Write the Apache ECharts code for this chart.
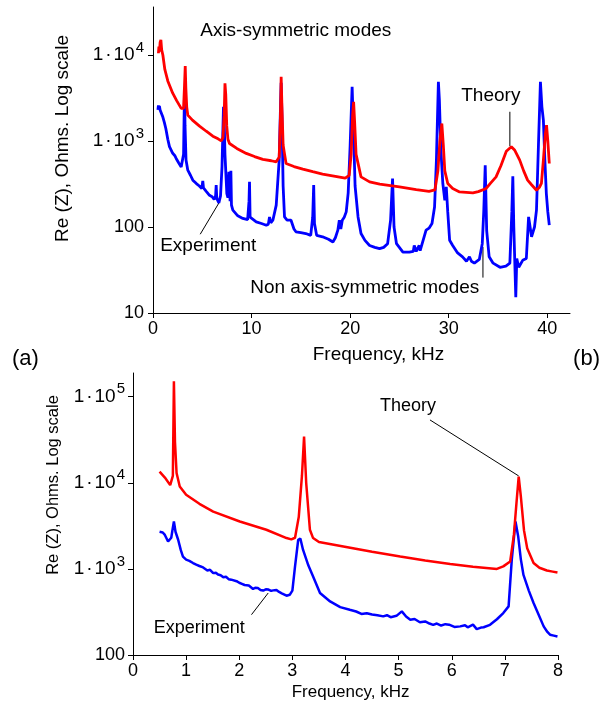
<!DOCTYPE html>
<html>
<head>
<meta charset="utf-8">
<script src="https://cdn.jsdelivr.net/npm/echarts@6/dist/echarts.min.js"></script>
<style>
  html, body { margin: 0; padding: 0; background: #fff; }
  #main { width: 604px; height: 703px; }
</style>
</head>
<body>
<div id="main"></div>
<script>
// ---- (a) full band, 0-40 kHz: frequency in kHz, Re(Z) in ohms ----
const topTheoryFreq = [0.55, 0.6, 0.66, 0.72, 0.8, 0.88, 1.0, 1.2, 1.5, 2.0, 2.4, 2.86, 3.1, 3.2, 3.27, 3.33, 3.42, 3.53, 4.0, 4.72, 5.4, 6.07, 6.6, 6.92, 7.1, 7.22, 7.3, 7.38, 7.48, 7.6, 7.76, 8.5, 9.46, 10.3, 11.14, 12.0, 12.5, 12.8, 12.92, 13.0, 13.08, 13.2, 13.35, 13.5, 14.3, 15.2, 16.2, 17.2, 18.5, 19.5, 19.9, 20.1, 20.25, 20.35, 20.45, 20.6, 21.1, 21.97, 23.0, 25.0, 26.7, 28.0, 28.6, 28.9, 29.1, 29.3, 29.45, 29.6, 29.9, 30.4, 31.1, 32.45, 33.0, 33.8, 34.2, 34.8, 35.3, 35.84, 36.35, 36.7, 37.2, 37.6, 38.0, 38.4, 38.9, 39.2, 39.4, 39.6, 39.8, 39.92, 40.05, 40.2];
const topTheoryOhm = [10500, 12500, 11000, 14000, 15000, 11500, 10000, 6800, 5000, 3600, 2950, 2400, 2400, 4500, 7450, 4200, 2500, 2000, 1750, 1490, 1300, 1140, 1060, 1005, 1100, 2000, 4690, 3500, 1500, 1050, 937, 820, 718, 660, 611, 590, 573, 650, 1800, 5580, 2500, 900, 700, 548, 505, 471, 440, 412, 388, 370, 400, 700, 2000, 2860, 1700, 700, 383, 335, 315, 293, 272, 260, 270, 450, 1000, 1600, 900, 450, 321, 280, 256, 250, 258, 281, 320, 383, 520, 760, 860, 780, 600, 450, 351, 310, 268, 290, 321, 600, 1200, 1530, 1000, 548];

const topExpFreq = [0.5, 0.55, 0.6, 0.65, 0.72, 0.8, 1.0, 1.15, 1.3, 1.5, 1.67, 2.0, 2.2, 2.35, 2.6, 2.86, 3.0, 3.1, 3.17, 3.2, 3.25, 3.35, 3.53, 3.8, 4.04, 4.4, 4.7, 4.95, 5.05, 5.12, 5.4, 5.73, 6.0, 6.2, 6.35, 6.41, 6.47, 6.68, 6.85, 7.0, 7.08, 7.15, 7.22, 7.3, 7.49, 7.6, 7.7, 7.76, 7.82, 7.9, 7.96, 8.1, 8.6, 9.11, 9.6, 9.74, 9.79, 9.85, 10.47, 11.0, 11.49, 11.7, 11.82, 11.95, 12.16, 12.5, 12.8, 12.95, 13.0, 13.08, 13.2, 13.34, 13.6, 14.0, 14.1, 14.3, 14.5, 15.0, 15.5, 16.0, 16.2, 16.3, 16.38, 16.6, 17.2, 17.8, 18.25, 18.5, 18.75, 18.9, 19.05, 19.2, 19.4, 19.6, 19.8, 20.0, 20.2, 20.35, 20.5, 20.8, 21.1, 21.5, 21.97, 22.5, 22.98, 23.4, 23.8, 24.1, 24.3, 24.45, 24.7, 25.35, 26.0, 26.4, 26.5, 26.7, 27.0, 27.1, 27.3, 27.7, 28.0, 28.3, 28.56, 28.75, 28.95, 29.05, 29.2, 29.4, 29.6, 29.75, 29.9, 30.09, 30.4, 30.9, 31.4, 31.8, 32.1, 32.3, 32.6, 33.1, 33.4, 33.55, 33.7, 33.85, 34.1, 34.5, 35.2, 35.8, 36.2, 36.4, 36.5, 36.6, 36.8, 36.9, 37.1, 37.5, 37.87, 38.1, 38.4, 38.7, 38.9, 39.1, 39.3, 39.45, 39.6, 39.75, 39.9, 40.05, 40.2];
const topExpOhm = [2300, 2600, 2400, 2550, 2300, 2400, 1900, 1650, 1400, 1050, 860, 720, 680, 627, 560, 500, 480, 700, 2500, 4090, 1500, 600, 458, 400, 351, 320, 300, 280, 344, 285, 260, 234, 225, 210, 230, 307, 215, 191, 230, 500, 1200, 2500, 1800, 700, 245, 220, 440, 458, 200, 450, 180, 157, 135, 126, 122, 200, 335, 130, 115, 110, 105, 108, 131, 112, 120, 180, 600, 3000, 4760, 2000, 300, 131, 120, 120, 126, 95, 88, 86, 84, 80, 130, 307, 110, 80, 77, 72, 67, 75, 92, 120, 95, 120, 130, 150, 250, 900, 4280, 1200, 300, 131, 84, 70, 61, 58, 56, 58, 64, 120, 367, 100, 64, 51, 51, 52, 61, 52, 61, 53, 55, 92, 97, 110, 171, 600, 4890, 3000, 800, 321, 205, 293, 150, 70, 61, 50, 45, 40, 45, 40, 38, 42, 64, 150, 524, 90, 45, 38, 34, 35, 38, 150, 390, 100, 15.3, 43, 34, 41, 43, 131, 77, 100, 157, 900, 4890, 2500, 1750, 600, 245, 150, 105];

// ---- (b) low band, 0-8 kHz ----
const botTheoryFreq = [0.5, 0.6, 0.7, 0.73, 0.75, 0.77, 0.79, 0.82, 0.88, 1.0, 1.25, 1.51, 2.01, 2.51, 2.89, 2.98, 3.05, 3.12, 3.18, 3.22, 3.26, 3.33, 3.39, 3.5, 3.96, 4.5, 5.03, 5.5, 5.97, 6.4, 6.85, 6.97, 7.1, 7.17, 7.22, 7.26, 7.3, 7.36, 7.42, 7.54, 7.65, 7.79, 7.9, 7.99];
const botTheoryOhm = [13500, 11500, 9400, 9040, 12000, 151000, 30000, 13000, 9040, 7250, 5700, 4630, 3550, 2850, 2280, 2200, 2300, 4000, 12000, 34400, 10000, 2850, 2280, 2050, 1820, 1580, 1390, 1250, 1140, 1060, 1000, 1070, 1220, 2500, 6000, 11800, 7000, 2800, 1740, 1170, 1030, 957, 930, 908];

const botExpFreq = [0.5, 0.53, 0.56, 0.6, 0.63, 0.66, 0.69, 0.72, 0.75, 0.77, 0.8, 0.85, 0.9, 0.94, 1.0, 1.06, 1.13, 1.19, 1.25, 1.32, 1.4, 1.45, 1.51, 1.56, 1.6, 1.65, 1.7, 1.75, 1.8, 1.85, 1.885, 1.95, 2.0, 2.05, 2.1, 2.18, 2.26, 2.3, 2.35, 2.4, 2.45, 2.5, 2.55, 2.6, 2.64, 2.7, 2.75, 2.8, 2.89, 2.95, 3.0, 3.05, 3.11, 3.15, 3.2, 3.3, 3.39, 3.52, 3.71, 3.9, 4.08, 4.2, 4.3, 4.4, 4.5, 4.6, 4.71, 4.78, 4.85, 4.96, 5.06, 5.14, 5.22, 5.3, 5.4, 5.5, 5.58, 5.65, 5.72, 5.8, 5.88, 5.95, 6.05, 6.16, 6.25, 6.3, 6.4, 6.47, 6.55, 6.6, 6.72, 6.85, 6.97, 7.07, 7.13, 7.2, 7.25, 7.3, 7.35, 7.45, 7.54, 7.65, 7.73, 7.8, 7.85, 7.92, 7.99];
const botExpOhm = [2700, 2600, 2650, 2480, 2500, 2080, 2150, 2300, 3000, 3550, 2700, 2180, 1650, 1390, 1280, 1240, 1170, 1120, 1080, 1040, 960, 975, 893, 900, 860, 845, 800, 810, 760, 750, 714, 720, 690, 670, 650, 640, 583, 605, 600, 570, 560, 580, 575, 555, 563, 570, 540, 520, 488, 500, 560, 1070, 2180, 2250, 1670, 1100, 817, 525, 419, 360, 335, 320, 300, 305, 295, 290, 281, 290, 275, 285, 321, 280, 257, 262, 240, 245, 232, 224, 232, 220, 228, 225, 212, 215, 222, 210, 225, 200, 208, 210, 224, 260, 307, 367, 1280, 3550, 2400, 1300, 850, 560, 401, 280, 215, 185, 172, 168, 164];

// axis ticks (decades on the log axes)
const topXTicks = [0, 10, 20, 30, 40];
const topYDecades = [1, 2, 3, 4];      // 10 .. 1e4
const botXTicks = [0, 1, 2, 3, 4, 5, 6, 7, 8];
const botYDecades = [2, 3, 4, 5];      // 100 .. 1e5

const FONT = "'Liberation Sans', Arial, sans-serif";
const RED = '#ff0000';
const BLUE = '#0000ff';

function pairs(fs, vs) {
  return fs.map((f, i) => [f, Math.log10(vs[i])]);
}

function decadeLabel(v) {
  const e = Math.round(v);
  if (e === 1) return '{p|10}';
  if (e === 2) return '{p|100}';
  return '{m|1}{d|\u00b7}{m|10}{s|' + e + '}';
}

function yRich(size) {
  const base = { fontFamily: FONT, color: '#000' };
  return {
    p: Object.assign({ fontSize: size, lineHeight: 30 }, base),
    m: Object.assign({ fontSize: size + 1, lineHeight: 30 }, base),
    d: Object.assign({ fontSize: size + 1, lineHeight: 30, padding: [0, 2, 0, 2] }, base),
    s: Object.assign({ fontSize: size - 3, lineHeight: 17, verticalAlign: 'top', padding: [0, 0, 0, 1] }, base)
  };
}

const axisLine = { show: true, onZero: false, lineStyle: { color: '#000', width: 1 } };
const axisTick = (vals) => ({ show: true, length: 5, customValues: vals, lineStyle: { color: '#000', width: 1 } });

const option = {
  animation: false,
  backgroundColor: '#fff',
  grid: [
    { left: 153, top: 7, width: 417, height: 306 },
    { left: 133, top: 373, width: 425, height: 282 }
  ],
  xAxis: [
    {
      gridIndex: 0, type: 'value', min: 0, max: 42.3,
      axisLine, axisTick: axisTick(topXTicks), splitLine: { show: false },
      axisLabel: { customValues: topXTicks, margin: 7, fontSize: 18, fontFamily: FONT, color: '#000' }
    },
    {
      gridIndex: 1, type: 'value', min: 0, max: 8,
      axisLine, axisTick: axisTick(botXTicks), splitLine: { show: false },
      axisLabel: { customValues: botXTicks, margin: 7, fontSize: 18, fontFamily: FONT, color: '#000' }
    }
  ],
  yAxis: [
    {
      gridIndex: 0, type: 'value', min: 1, max: 4.559,
      axisLine, axisTick: axisTick(topYDecades), splitLine: { show: false },
      axisLabel: { customValues: topYDecades, margin: 9, formatter: decadeLabel, rich: yRich(18) }
    },
    {
      gridIndex: 1, type: 'value', min: 2, max: 5.275,
      axisLine, axisTick: axisTick(botYDecades), splitLine: { show: false },
      axisLabel: { customValues: botYDecades, margin: 8, formatter: decadeLabel, rich: yRich(18) }
    }
  ],
  series: [
    { name: 'Experiment', type: 'line', xAxisIndex: 0, yAxisIndex: 0, data: pairs(topExpFreq, topExpOhm),
      showSymbol: false, lineStyle: { color: BLUE, width: 2.8 }, z: 2 },
    { name: 'Theory', type: 'line', xAxisIndex: 0, yAxisIndex: 0, data: pairs(topTheoryFreq, topTheoryOhm),
      showSymbol: false, lineStyle: { color: RED, width: 2.8 }, z: 3 },
    { name: 'Experiment', type: 'line', xAxisIndex: 1, yAxisIndex: 1, data: pairs(botExpFreq, botExpOhm),
      showSymbol: false, lineStyle: { color: BLUE, width: 2.5 }, z: 2 },
    { name: 'Theory', type: 'line', xAxisIndex: 1, yAxisIndex: 1, data: pairs(botTheoryFreq, botTheoryOhm),
      showSymbol: false, lineStyle: { color: RED, width: 2.5 }, z: 3 }
  ]
};

const chart = echarts.init(document.getElementById('main'), null, { renderer: 'canvas' });
chart.setOption(option);

// annotation text, anchored at its left baseline in data units [kHz, ohm]
const notes = [
  { grid: 0, text: 'Axis-symmetric modes', at: [4.79, 16200], size: 19 },
  { grid: 0, text: 'Theory', at: [31.27, 2790], size: 19 },
  { grid: 0, text: 'Experiment', at: [0.73, 51.3], size: 19 },
  { grid: 0, text: 'Non axis-symmetric modes', at: [9.86, 16.5], size: 19 },
  { grid: 1, text: 'Theory', at: [4.65, 65900], size: 18 },
  { grid: 1, text: 'Experiment', at: [0.39, 172], size: 18 }
];
// leader lines from a label to its curve, in data units
const leaders = [
  { grid: 0, from: [36.2, 2190], to: [36.2, 873] },
  { grid: 0, from: [33.47, 58.6], to: [33.47, 25.8] },
  { grid: 0, from: [4.79, 82.4], to: [6.75, 196] },
  { grid: 1, from: [5.59, 53700], to: [7.26, 12000] },
  { grid: 1, from: [2.23, 294], to: [2.545, 525] }
];

function px(g, p) {
  return chart.convertToPixel({ gridIndex: g }, [p[0], Math.log10(p[1])]);
}

const graphic = [];
notes.forEach(n => {
  const p = px(n.grid, n.at);
  graphic.push({
    type: 'text', x: p[0], y: p[1] - 0.3465 * n.size, silent: true,
    style: { text: n.text, fill: '#000', font: n.size + 'px ' + FONT, align: 'left', verticalAlign: 'middle' }
  });
});
leaders.forEach(l => {
  const a = px(l.grid, l.from), b = px(l.grid, l.to);
  graphic.push({
    type: 'line', silent: true,
    shape: { x1: a[0], y1: a[1], x2: b[0], y2: b[1] },
    style: { stroke: '#000', lineWidth: 1 }
  });
});

// axis titles and panel letters
const titles = [
  { text: 'Re (Z), Ohms. Log scale', x: 63, y: 138.5, size: 19, rot: Math.PI / 2, align: 'center' },
  { text: 'Frequency, kHz', x: 312.7, y: 354.5, size: 19, rot: 0, align: 'left' },
  { text: '(a)', x: 12, y: 359, size: 22, rot: 0, align: 'left' },
  { text: '(b)', x: 600, y: 359, size: 22, rot: 0, align: 'right' },
  { text: 'Re (Z), Ohms. Log scale', x: 53, y: 485, size: 16.5, rot: Math.PI / 2, align: 'center' },
  { text: 'Frequency, kHz', x: 291.7, y: 692, size: 17, rot: 0, align: 'left' }
];
titles.forEach(t => {
  graphic.push({
    type: 'text', x: t.x, y: t.y, rotation: t.rot, silent: true,
    style: { text: t.text, fill: '#000', font: t.size + 'px ' + FONT, align: t.align, verticalAlign: 'middle' }
  });
});

chart.setOption({ graphic });
</script>
</body>
</html>
